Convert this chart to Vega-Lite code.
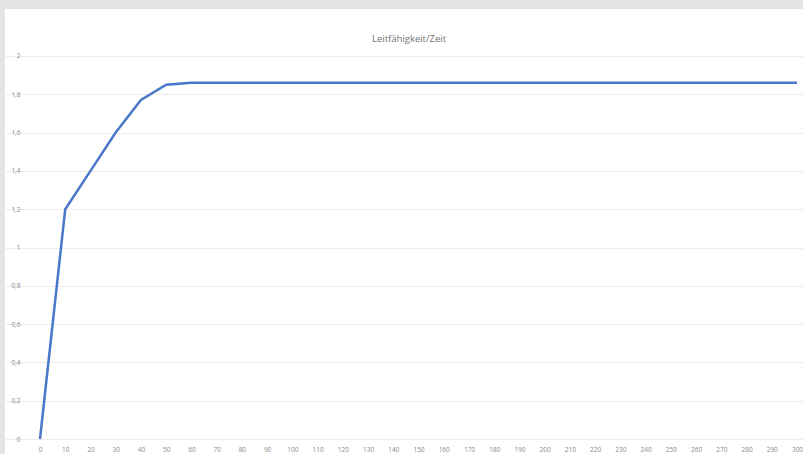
{
  "$schema": "https://vega.github.io/schema/vega-lite/v6.json",
  "width": 798,
  "height": 445,
  "autosize": {"type": "none"},
  "padding": {"left": 5, "top": 9, "right": 0, "bottom": 0},
  "background": "#e4e4e4",
  "config": {
    "view": {"fill": "#ffffff", "stroke": null},
    "font": "Open Sans",
    "locale": {"number": {"decimal": ",", "thousands": ".", "grouping": [3], "currency": ["", " €"]}}
  },
  "title": {
    "text": "Leitfähigkeit/Zeit",
    "anchor": "middle",
    "frame": "group",
    "offset": -34,
    "dx": 5,
    "fontSize": 9.5,
    "fontWeight": "normal",
    "color": "#737373",
    "font": "Open Sans"
  },
  "data": {
    "values": [
      {"zeit": 0, "lf": 0},
      {"zeit": 10, "lf": 1.2},
      {"zeit": 20, "lf": 1.4},
      {"zeit": 30, "lf": 1.6},
      {"zeit": 40, "lf": 1.77},
      {"zeit": 50, "lf": 1.85},
      {"zeit": 60, "lf": 1.86},
      {"zeit": 70, "lf": 1.86},
      {"zeit": 80, "lf": 1.86},
      {"zeit": 90, "lf": 1.86},
      {"zeit": 100, "lf": 1.86},
      {"zeit": 110, "lf": 1.86},
      {"zeit": 120, "lf": 1.86},
      {"zeit": 130, "lf": 1.86},
      {"zeit": 140, "lf": 1.86},
      {"zeit": 150, "lf": 1.86},
      {"zeit": 160, "lf": 1.86},
      {"zeit": 170, "lf": 1.86},
      {"zeit": 180, "lf": 1.86},
      {"zeit": 190, "lf": 1.86},
      {"zeit": 200, "lf": 1.86},
      {"zeit": 210, "lf": 1.86},
      {"zeit": 220, "lf": 1.86},
      {"zeit": 230, "lf": 1.86},
      {"zeit": 240, "lf": 1.86},
      {"zeit": 250, "lf": 1.86},
      {"zeit": 260, "lf": 1.86},
      {"zeit": 270, "lf": 1.86},
      {"zeit": 280, "lf": 1.86},
      {"zeit": 290, "lf": 1.86},
      {"zeit": 300, "lf": 1.86}
    ]
  },
  "mark": {"type": "line", "color": "#4a78c8", "strokeWidth": 2.5, "clip": true},
  "encoding": {
    "x": {
      "field": "zeit",
      "type": "quantitative",
      "scale": {"domain": [-13.87, 302.38], "nice": false, "zero": false},
      "axis": {
        "title": null,
        "values": [0,10,20,30,40,50,60,70,80,90,100,110,120,130,140,150,160,170,180,190,200,210,220,230,240,250,260,270,280,290,300],
        "format": "d",
        "grid": false,
        "domain": false,
        "ticks": false,
        "offset": -15,
        "labelPadding": 7,
        "labelFontSize": 6.5,
        "labelColor": "#8a8a8a",
        "labelOverlap": false,
        "labelFlush": false
      }
    },
    "y": {
      "field": "lf",
      "type": "quantitative",
      "scale": {"domain": [-0.0783, 2.2454], "nice": false, "zero": false},
      "axis": {
        "title": null,
        "values": [0,0.2,0.4,0.6,0.8,1,1.2,1.4,1.6,1.8,2],
        "format": ".1~f",
        "grid": true,
        "gridColor": "#ececec",
        "gridWidth": 1,
        "domain": false,
        "ticks": false,
        "offset": -22,
        "labelPadding": 7,
        "labelFontSize": 6.5,
        "labelColor": "#8a8a8a",
        "labelFlush": false,
        "labelOverlap": false
      }
    }
  }
}
